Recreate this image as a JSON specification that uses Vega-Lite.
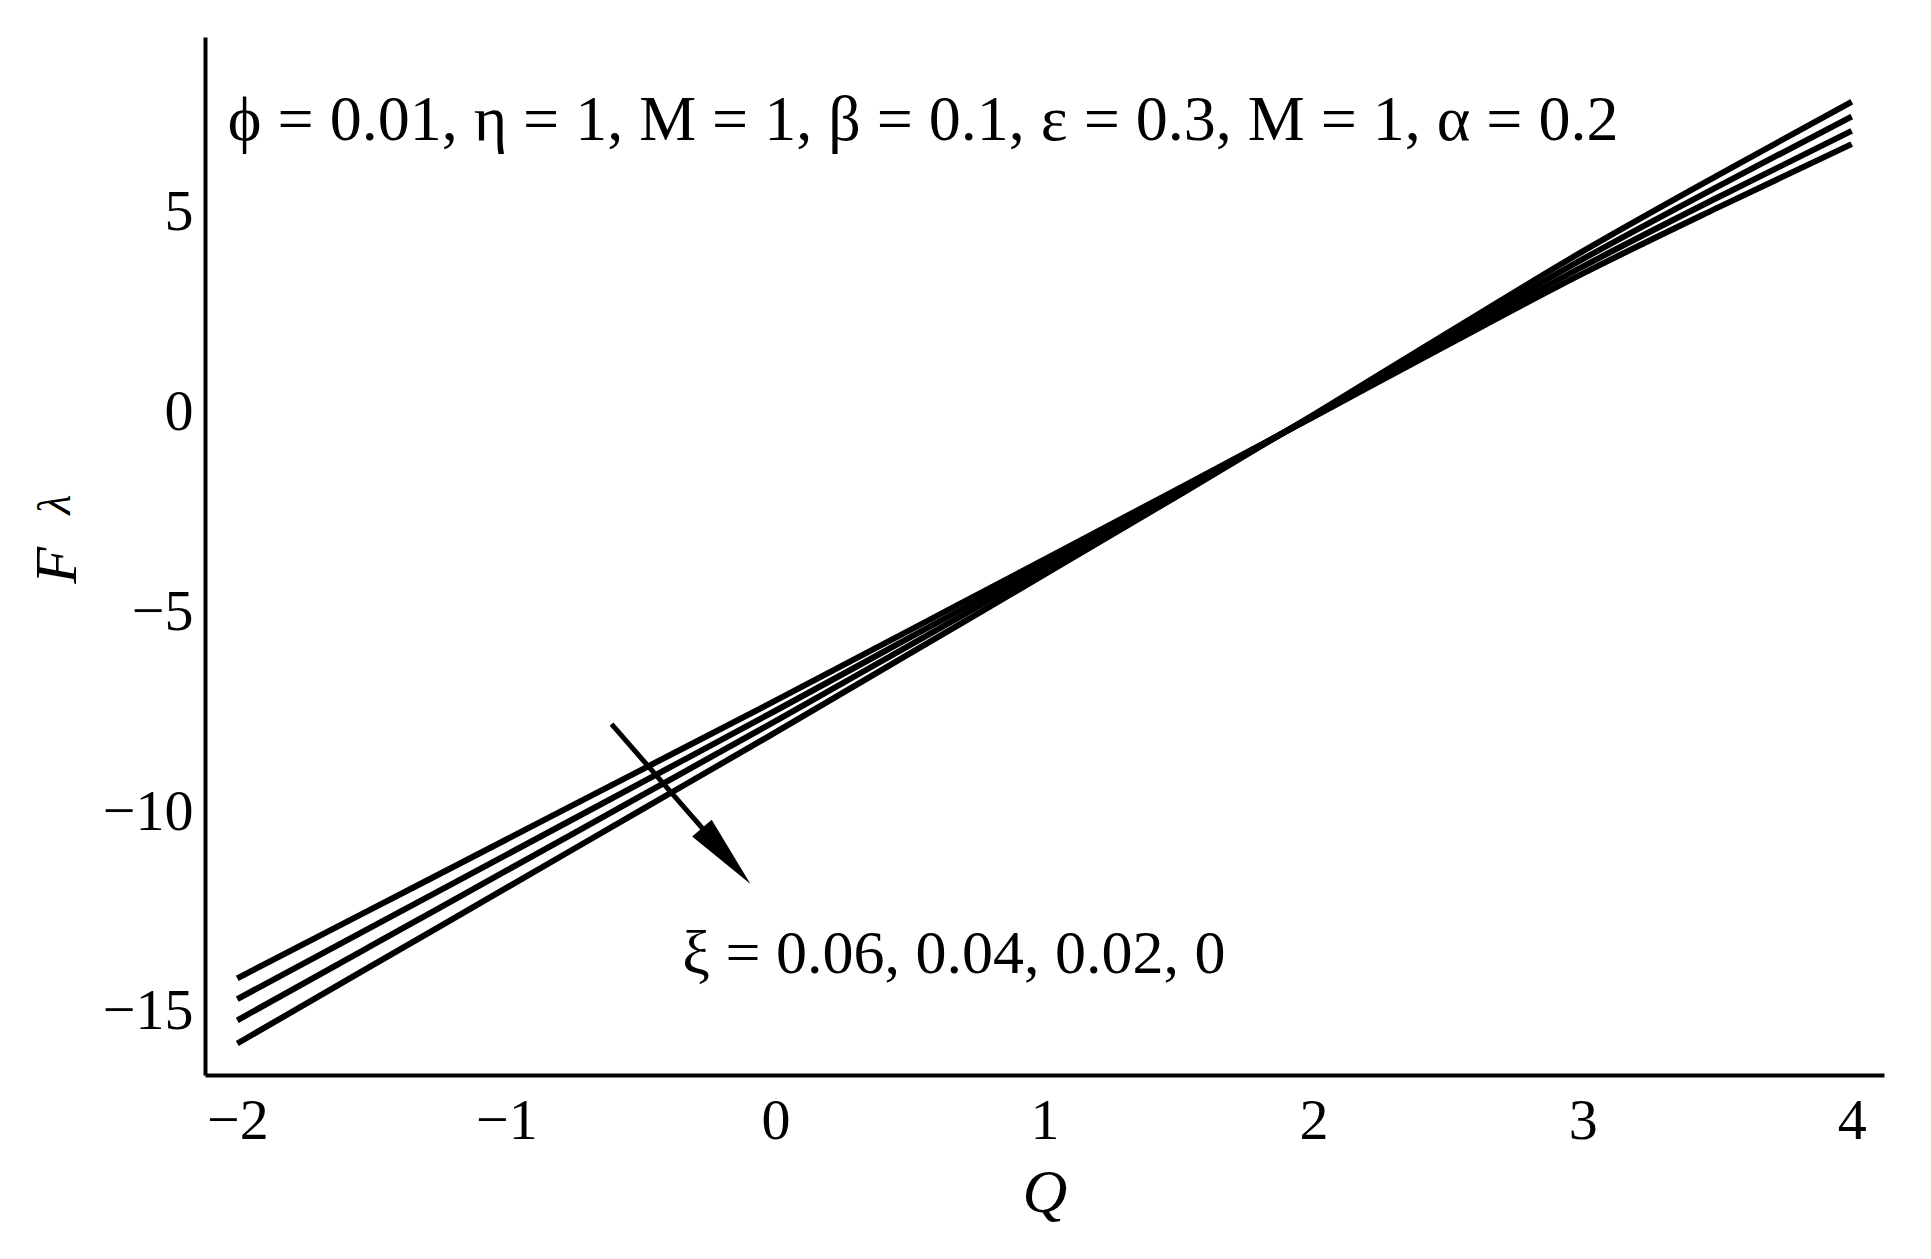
{
  "$schema": "https://vega.github.io/schema/vega-lite/v6.json",
  "width": 1679,
  "height": 1038,
  "autosize": {"type": "none"},
  "padding": {"left": 205, "top": 37, "right": 47, "bottom": 184},
  "background": "white",
  "config": {
    "view": {"stroke": null},
    "font": "Liberation Serif",
    "axis": {
      "domainColor": "black",
      "domainWidth": 4,
      "ticks": false,
      "tickSize": 0,
      "grid": false,
      "labelColor": "black",
      "labelFont": "Liberation Serif",
      "labelFontSize": 58,
      "labelFlush": false,
      "labelOverlap": false,
      "titleColor": "black",
      "titleFont": "Liberation Serif",
      "titleFontWeight": "normal",
      "titleFontStyle": "italic"
    }
  },
  "datasets": {
    "curves": [
      {"Q": -2, "F": -14.160, "xi": "0.06"}, {"Q": -1.5, "F": -12.423, "xi": "0.06"}, {"Q": -1, "F": -10.686, "xi": "0.06"}, {"Q": -0.5, "F": -8.948, "xi": "0.06"}, {"Q": 0, "F": -7.211, "xi": "0.06"}, {"Q": 0.5, "F": -5.443, "xi": "0.06"}, {"Q": 1, "F": -3.676, "xi": "0.06"}, {"Q": 1.5, "F": -1.898, "xi": "0.06"}, {"Q": 2, "F": -0.105, "xi": "0.06"}, {"Q": 2.5, "F": 1.701, "xi": "0.06"}, {"Q": 3, "F": 3.477, "xi": "0.06"}, {"Q": 3.5, "F": 5.123, "xi": "0.06"}, {"Q": 4, "F": 6.719, "xi": "0.06"},
      {"Q": -2, "F": -14.679, "xi": "0.04"}, {"Q": -1.5, "F": -12.875, "xi": "0.04"}, {"Q": -1, "F": -11.071, "xi": "0.04"}, {"Q": -0.5, "F": -9.267, "xi": "0.04"}, {"Q": 0, "F": -7.463, "xi": "0.04"}, {"Q": 0.5, "F": -5.629, "xi": "0.04"}, {"Q": 1, "F": -3.795, "xi": "0.04"}, {"Q": 1.5, "F": -1.951, "xi": "0.04"}, {"Q": 2, "F": -0.089, "xi": "0.04"}, {"Q": 2.5, "F": 1.796, "xi": "0.04"}, {"Q": 3, "F": 3.651, "xi": "0.04"}, {"Q": 3.5, "F": 5.376, "xi": "0.04"}, {"Q": 4, "F": 7.051, "xi": "0.04"},
      {"Q": -2, "F": -15.210, "xi": "0.02"}, {"Q": -1.5, "F": -13.338, "xi": "0.02"}, {"Q": -1, "F": -11.466, "xi": "0.02"}, {"Q": -0.5, "F": -9.594, "xi": "0.02"}, {"Q": 0, "F": -7.722, "xi": "0.02"}, {"Q": 0.5, "F": -5.820, "xi": "0.02"}, {"Q": 1, "F": -3.918, "xi": "0.02"}, {"Q": 1.5, "F": -2.006, "xi": "0.02"}, {"Q": 2, "F": -0.072, "xi": "0.02"}, {"Q": 2.5, "F": 1.899, "xi": "0.02"}, {"Q": 3, "F": 3.839, "xi": "0.02"}, {"Q": 3.5, "F": 5.650, "xi": "0.02"}, {"Q": 4, "F": 7.410, "xi": "0.02"},
      {"Q": -2, "F": -15.791, "xi": "0"}, {"Q": -1.5, "F": -13.844, "xi": "0"}, {"Q": -1, "F": -11.898, "xi": "0"}, {"Q": -0.5, "F": -9.951, "xi": "0"}, {"Q": 0, "F": -8.005, "xi": "0"}, {"Q": 0.5, "F": -6.028, "xi": "0"}, {"Q": 1, "F": -4.052, "xi": "0"}, {"Q": 1.5, "F": -2.065, "xi": "0"}, {"Q": 2, "F": -0.054, "xi": "0"}, {"Q": 2.5, "F": 2.004, "xi": "0"}, {"Q": 3, "F": 4.033, "xi": "0"}, {"Q": 3.5, "F": 5.931, "xi": "0"}, {"Q": 4, "F": 7.780, "xi": "0"}
    ]
  },
  "layer": [
    {
      "data": {"name": "curves"},
      "mark": {"type": "line", "color": "black", "strokeWidth": 6, "interpolate": "monotone"},
      "encoding": {
        "x": {
          "field": "Q", "type": "quantitative",
          "scale": {"domain": [-2.12, 4.12], "nice": false, "zero": false},
          "axis": {"title": "Q", "values": [-2, -1, 0, 1, 2, 3, 4], "format": "d", "labelPadding": 17, "labelBaseline": "top",
                   "titleFontSize": 62, "titleBaseline": "middle", "titleY": 117, "titleAnchor": "middle"}
        },
        "y": {
          "field": "F", "type": "quantitative",
          "scale": {"domain": [-16.58, 9.40], "nice": false, "zero": false},
          "axis": {"title": "F", "values": [-15, -10, -5, 0, 5], "format": "d", "labelPadding": 12,
                   "titleFontSize": 60, "titleAngle": 270, "titleBaseline": "middle", "titleAlign": "center",
                   "titleX": -148, "titleY": 528}
        },
        "detail": {"field": "xi"}
      }
    },
    {
      "data": {"values": [{}]},
      "mark": {"type": "text", "angle": 270, "fontSize": 46, "fontStyle": "italic", "align": "center", "baseline": "middle", "color": "black", "font": "Liberation Serif"},
      "encoding": {"x": {"datum": -2.674}, "y": {"datum": -2.3}, "text": {"value": "λ"}}
    },
    {
      "data": {"values": [{}]},
      "mark": {"type": "rule", "color": "black", "strokeWidth": 5},
      "encoding": {"x": {"datum": -0.609}, "y": {"datum": -7.80}, "x2": {"datum": -0.22}, "y2": {"datum": -10.80}}
    },
    {
      "data": {"values": [{}]},
      "mark": {"type": "point", "shape": "M0,-1L0.35,1L-0.35,1Z", "filled": true, "color": "black", "opacity": 1, "size": 5476, "angle": 139, "strokeWidth": 0},
      "encoding": {"x": {"datum": -0.183}, "y": {"datum": -11.10}}
    },
    {
      "data": {"values": [{}]},
      "mark": {"type": "text", "align": "left", "baseline": "middle", "fontSize": 62, "color": "black", "font": "Liberation Serif"},
      "encoding": {"x": {"datum": -0.346}, "y": {"datum": -13.55}, "text": {"value": "ξ = 0.06, 0.04, 0.02, 0"}}
    },
    {
      "data": {"values": [{}]},
      "mark": {"type": "text", "align": "left", "baseline": "middle", "fontSize": 64, "color": "black", "font": "Liberation Serif"},
      "encoding": {"x": {"datum": -2.035}, "y": {"datum": 7.30}, "text": {"value": "ϕ  = 0.01, η = 1, M = 1, β = 0.1, ε = 0.3, M = 1, α = 0.2"}}
    }
  ]
}
